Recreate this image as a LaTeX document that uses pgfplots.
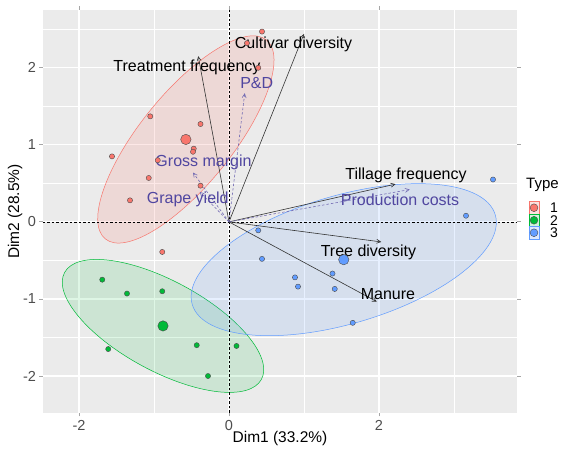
\documentclass[border=0pt]{standalone}
\usepackage{fontspec}
\setmainfont{Liberation Sans}
\usepackage{pgfplots}
\pgfplotsset{compat=1.18}
\usetikzlibrary{arrows.meta}
\definecolor{c1}{HTML}{F8766D}
\definecolor{c2}{HTML}{00BA38}
\definecolor{c3}{HTML}{619CFF}
\definecolor{panel}{HTML}{EBEBEB}
\definecolor{supp}{RGB}{80,70,160}
\definecolor{tickc}{HTML}{4D4D4D}
\definecolor{arr}{HTML}{333333}
\begin{document}
\begin{tikzpicture}
\begin{axis}[
  at={(0pt,0pt)}, anchor=south west,
  scale only axis, width=474pt, height=403pt,
  xmin=-2.48, xmax=3.84, ymin=-2.48, ymax=2.75,
  axis background/.style={fill=panel},
  axis line style={draw=none},
  xtick={-2,0,2}, xticklabels={-2,0,2},
  ytick={-2,-1,0,1,2}, yticklabels={-2,-1,0,1,2},
  minor xtick={-1,1,3}, minor ytick={-1.5,-0.5,0.5,1.5,2.5},
  grid=both,
  major grid style={white, line width=1.1pt},
  minor grid style={white, line width=0.55pt},
  tick align=outside, major tick length=3.5pt, minor tick length=0pt,
  tick style={color=gray!70, line width=0.8pt},
  ticklabel style={font=\fontsize{14.5}{16}\selectfont, text=tickc},
  xlabel={Dim1 (33.2\%)}, ylabel={Dim2 (28.5\%)},
  label style={font=\fontsize{15.5}{18}\selectfont},
  xlabel style={at={(axis description cs:0.5,0)}, anchor=center, yshift=-25pt},
  ylabel style={at={(axis description cs:0,0.5)}, anchor=center, rotate=0, yshift=28pt},
  clip=true,
]
% confidence ellipses
\draw[draw=c1, fill=c1, fill opacity=0.16, line width=0.5pt, rotate around={51:(axis cs:-0.575,1.07)}] (axis cs:-0.575,1.07) ellipse [x radius=128pt, y radius=46pt];
\draw[draw=c2, fill=c2, fill opacity=0.13, line width=0.5pt, rotate around={-28.5:(axis cs:-0.88,-1.35)}] (axis cs:-0.88,-1.35) ellipse [x radius=112pt, y radius=45pt];
\draw[draw=c3, fill=c3, fill opacity=0.15, line width=0.5pt, rotate around={16.5:(axis cs:1.53,-0.49)}] (axis cs:1.53,-0.49) ellipse [x radius=158pt, y radius=64pt];
% zero lines
\addplot[black, line width=0.6pt, dash pattern=on 2.5pt off 2pt] coordinates {(0,-2.48) (0,2.75)};
\addplot[black, line width=0.6pt, dash pattern=on 2.5pt off 2pt] coordinates {(-2.48,0) (3.84,0)};
% active variable arrows
\addplot[arr, line width=0.6pt, -{Straight Barb[length=4pt,width=4pt]}] coordinates {(0,0) (-0.41,2.15)};
\addplot[arr, line width=0.6pt, -{Straight Barb[length=4pt,width=4pt]}] coordinates {(0,0) (1.00,2.44)};
\addplot[arr, line width=0.6pt, -{Straight Barb[length=4pt,width=4pt]}] coordinates {(0,0) (2.22,0.49)};
\addplot[arr, line width=0.6pt, -{Straight Barb[length=4pt,width=4pt]}] coordinates {(0,0) (2.03,-0.26)};
\addplot[arr, line width=0.6pt, -{Straight Barb[length=4pt,width=4pt]}] coordinates {(0,0) (1.97,-1.035)};
% supplementary variable arrows
\addplot[supp!80, line width=0.6pt, dash pattern=on 2.5pt off 2pt, -{Straight Barb[length=4pt,width=4pt]}] coordinates {(0,0) (0.21,1.67)};
\addplot[supp!80, line width=0.6pt, dash pattern=on 2.5pt off 2pt, -{Straight Barb[length=4pt,width=4pt]}] coordinates {(0,0) (-0.48,0.64)};
\addplot[supp!80, line width=0.6pt, dash pattern=on 2.5pt off 2pt, -{Straight Barb[length=4pt,width=4pt]}] coordinates {(0,0) (-0.39,0.39)};
\addplot[supp!80, line width=0.6pt, dash pattern=on 2.5pt off 2pt, -{Straight Barb[length=4pt,width=4pt]}] coordinates {(0,0) (2.41,0.42)};
% individuals, type 1
\addplot[only marks, mark=*, mark size=2.6pt, mark options={fill=c1, draw=black!70, line width=0.4pt}] coordinates {
(0.44,2.47) (0.24,2.32) (0.39,2.00) (-1.05,1.37) (-0.38,1.27) (-0.47,0.95) (-0.48,0.91)
(-1.56,0.85) (-0.95,0.80) (-1.07,0.57) (-0.38,0.47) (-1.32,0.28) (-0.89,-0.39)};
% type 2
\addplot[only marks, mark=*, mark size=2.6pt, mark options={fill=c2, draw=black!70, line width=0.4pt}] coordinates {
(-1.69,-0.75) (-1.36,-0.93) (-0.89,-0.90) (-1.61,-1.65) (-0.43,-1.60) (0.10,-1.61) (-0.28,-2.00)};
% type 3
\addplot[only marks, mark=*, mark size=2.6pt, mark options={fill=c3, draw=black!70, line width=0.4pt}] coordinates {
(0.39,-0.11) (0.44,-0.48) (0.88,-0.72) (0.92,-0.84) (1.38,-0.67) (1.41,-0.87) (1.65,-1.31) (3.52,0.55) (3.16,0.08)};
% group centroids
\addplot[only marks, mark=*, mark size=5.2pt, mark options={fill=c1, draw=black!70, line width=0.4pt}] coordinates {(-0.575,1.07)};
\addplot[only marks, mark=*, mark size=5.2pt, mark options={fill=c2, draw=black!70, line width=0.4pt}] coordinates {(-0.88,-1.35)};
\addplot[only marks, mark=*, mark size=5.2pt, mark options={fill=c3, draw=black!70, line width=0.4pt}] coordinates {(1.53,-0.49)};
% variable labels
\tikzset{vl/.style={font=\fontsize{16}{19}\selectfont, inner sep=0pt}}
\node[vl] at (axis cs:-0.56,2.00) {Treatment frequency};
\node[vl] at (axis cs:0.86,2.30) {Cultivar diversity};
\node[vl] at (axis cs:2.36,0.61) {Tillage frequency};
\node[vl] at (axis cs:1.86,-0.40) {Tree diversity};
\node[vl] at (axis cs:2.12,-0.94) {Manure};
\node[vl, text=supp] at (axis cs:0.37,1.80) {P\&D};
\node[vl, text=supp] at (axis cs:-0.34,0.775) {Gross margin};
\node[vl, text=supp] at (axis cs:-0.55,0.286) {Grape yield};
\node[vl, text=supp] at (axis cs:2.28,0.29) {Production costs};
\end{axis}
% legend
\node[anchor=west, font=\fontsize{15}{18}\selectfont, inner sep=0pt] at (483pt,228pt) {Type};
\draw[c1, fill=c1!22, line width=0.5pt] (486pt,199pt) rectangle (496pt,211.5pt);
\draw[c2, fill=c2!18, line width=0.5pt] (486pt,186.5pt) rectangle (496pt,199pt);
\draw[c3, fill=c3!22, line width=0.5pt] (486pt,174pt) rectangle (496pt,186.5pt);
\filldraw[fill=c1, draw=black!70, line width=0.4pt] (491pt,205.25pt) circle (3.9pt);
\filldraw[fill=c2, draw=black!70, line width=0.4pt] (491pt,192.75pt) circle (3.9pt);
\filldraw[fill=c3, draw=black!70, line width=0.4pt] (491pt,180.25pt) circle (3.9pt);
\node[anchor=west, font=\fontsize{14}{16}\selectfont, inner sep=0pt] at (507pt,205.25pt) {1};
\node[anchor=west, font=\fontsize{14}{16}\selectfont, inner sep=0pt] at (507pt,192.75pt) {2};
\node[anchor=west, font=\fontsize{14}{16}\selectfont, inner sep=0pt] at (507pt,180.25pt) {3};
\pgfresetboundingbox
\path (-43pt,-36pt) rectangle (522pt,413pt);
\end{tikzpicture}
\end{document}
